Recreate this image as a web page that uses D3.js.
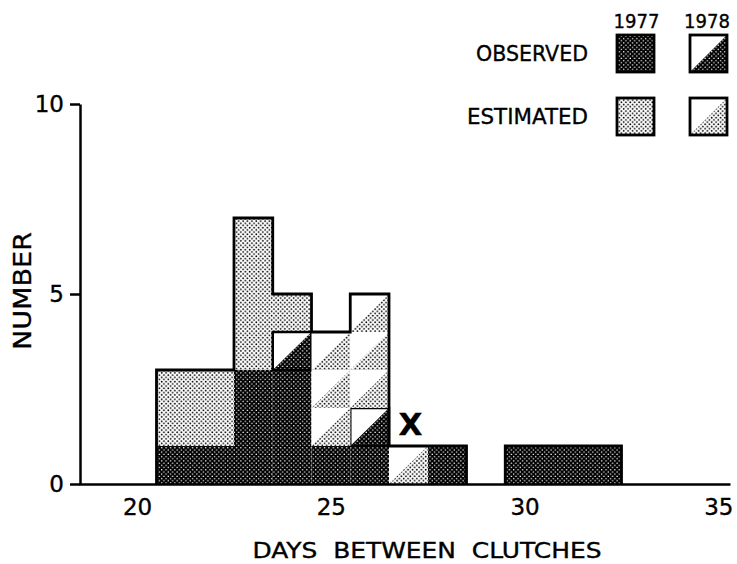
<!DOCTYPE html>
<html>
<head>
<meta charset="utf-8">
<script src="https://cdn.jsdelivr.net/npm/d3@7"></script>
<style>
  html, body { margin: 0; padding: 0; background: #fff; }
  svg { display: block; }
  text { font-family: "DejaVu Sans", sans-serif; fill: #000; stroke: #000; stroke-width: 0.35px; }
</style>
</head>
<body>
<svg id="chart" width="737" height="564"></svg>
<script>
// Interval bins (inclusive days)
const binFirstDay = [21, 23, 24, 25, 26, 27, 28, 30];
const binLastDay  = [22, 23, 24, 25, 26, 27, 28, 32];

// Counts per bin, listed in stacking order from the baseline up
const observed1977  = [1, 3, 3, 1, 1, 0, 1, 1];
const observed1978  = [0, 0, 1, 0, 1, 0, 0, 0];
const estimated1978 = [0, 0, 0, 3, 3, 1, 0, 0];
const estimated1977 = [2, 4, 1, 0, 0, 0, 0, 0];

const xTicks = [20, 25, 30, 35];
const yTicks = [0, 5, 10];
const years = ["1977", "1978"];
const kinds = ["OBSERVED", "ESTIMATED"];
const flaggedDay = 27;            // bin marked with an X
const xTitle = "DAYS BETWEEN CLUTCHES";
const yTitle = "NUMBER";

const svg = d3.select("#chart");

// ---- fill patterns -------------------------------------------------------
const defs = svg.append("defs");
function dotPattern(id, bg, fg, size, r) {
  const p = defs.append("pattern")
    .attr("id", id).attr("patternUnits", "userSpaceOnUse")
    .attr("width", size).attr("height", size);
  p.append("rect").attr("width", size).attr("height", size).attr("fill", bg);
  [[size * 0.25, size * 0.25], [size * 0.75, size * 0.75]].forEach(([cx, cy]) =>
    p.append("circle").attr("cx", cx).attr("cy", cy).attr("r", r).attr("fill", fg));
}
dotPattern("darkDots", "#000", "#fff", 4.4, 0.75);
dotPattern("lightDots", "#fff", "#000", 4.4, 0.9);

// ---- scales --------------------------------------------------------------
const x = d3.scaleLinear().domain([18.5, 35.3]).range([79, 730]);
const y = d3.scaleLinear().domain([0, 10]).range([484, 104]);

// ---- stacked data --------------------------------------------------------
const keys = ["obs77", "obs78", "est78", "est77"];
const rows = binFirstDay.map((d, i) => ({
  lo: d - 0.5,
  hi: binLastDay[i] + 0.5,
  obs77: observed1977[i],
  obs78: observed1978[i],
  est78: estimated1978[i],
  est77: estimated1977[i]
}));
const series = d3.stack().keys(keys)(rows);
const layer = k => series.find(s => s.key === k);

const plot = svg.append("g");

// 1977: solid blocks
[["obs77", "url(#darkDots)"], ["est77", "url(#lightDots)"]].forEach(([k, fill]) => {
  plot.append("g").selectAll("rect")
    .data(layer(k).filter(d => d[1] > d[0]))
    .join("rect")
    .attr("x", d => x(d.data.lo))
    .attr("width", d => x(d.data.hi) - x(d.data.lo))
    .attr("y", d => y(d[1]))
    .attr("height", d => y(d[0]) - y(d[1]))
    .attr("fill", fill);
});

// 1978: one diagonally split box per individual
function unitBoxes(k) {
  const out = [];
  layer(k).forEach(d => {
    d3.range(d[0], d[1]).forEach(v => out.push({ lo: d.data.lo, hi: d.data.hi, v0: v, v1: v + 1 }));
  });
  return out;
}
[["obs78", "url(#darkDots)", true], ["est78", "url(#lightDots)", false]].forEach(([k, fill, framed]) => {
  const g = plot.append("g").selectAll("g").data(unitBoxes(k)).join("g");
  g.append("rect")
    .attr("x", d => x(d.lo)).attr("width", d => x(d.hi) - x(d.lo))
    .attr("y", d => y(d.v1)).attr("height", d => y(d.v0) - y(d.v1))
    .attr("fill", "#fff");
  g.append("path")
    .attr("d", d => `M${x(d.lo)},${y(d.v0)}L${x(d.hi)},${y(d.v0)}L${x(d.hi)},${y(d.v1)}Z`)
    .attr("fill", fill);
  if (framed) {
    g.append("rect")
      .attr("x", d => x(d.lo)).attr("width", d => x(d.hi) - x(d.lo))
      .attr("y", d => y(d.v1)).attr("height", d => y(d.v0) - y(d.v1))
      .attr("fill", "none").attr("stroke", "#000").attr("stroke-width", 2.5);
  }
});

// outer silhouette of each run of adjacent bins
const tops = series[series.length - 1].map(d => d[1]);
const runs = [];
rows.forEach((r, i) => {
  const last = runs[runs.length - 1];
  if (last && rows[last[last.length - 1]].hi === r.lo) last.push(i);
  else runs.push([i]);
});
plot.append("g").selectAll("path").data(runs).join("path")
  .attr("d", run => {
    let p = `M${x(rows[run[0]].lo)},${y(0)}`;
    run.forEach(i => { p += `V${y(tops[i])}H${x(rows[i].hi)}`; });
    return p + `V${y(0)}`;
  })
  .attr("fill", "none").attr("stroke", "#000")
  .attr("stroke-width", 2.8).attr("stroke-linejoin", "miter");

// X marker over the flagged bin
const flagged = rows.find(r => r.lo === flaggedDay - 0.5);
const flaggedTop = tops[rows.indexOf(flagged)];
svg.append("text")
  .attr("x", x((flagged.lo + flagged.hi) / 2) + 2)
  .attr("y", y(flaggedTop) - 11)
  .attr("text-anchor", "middle")
  .attr("font-size", 31).attr("font-weight", "bold")
  .text("X");

// ---- axes ----------------------------------------------------------------
const yAxis = svg.append("g").attr("transform", `translate(80,0)`)
  .call(d3.axisLeft(y).tickValues(yTicks).tickSize(10).tickSizeOuter(0).tickPadding(6));
const xAxis = svg.append("g").attr("transform", `translate(0,${y(0)})`)
  .call(d3.axisBottom(x).tickValues(xTicks).tickSize(0).tickSizeOuter(0).tickPadding(15));
[yAxis, xAxis].forEach(a => {
  a.selectAll("path, line").attr("stroke", "#000").attr("stroke-width", 2.5);
  a.selectAll("text").attr("font-size", 23).attr("font-family", "DejaVu Sans, sans-serif")
    .attr("fill", "#000").attr("stroke", "#000").attr("stroke-width", 0.35);
});
xAxis.selectAll("text").attr("dy", "0.71em");

// axis titles
svg.append("text")
  .attr("x", 427).attr("y", 558)
  .attr("text-anchor", "middle").attr("font-size", 21)
  .attr("textLength", 349).attr("lengthAdjust", "spacingAndGlyphs")
  .text(xTitle.replace(/ /g, "\u00a0\u00a0"));
svg.append("text")
  .attr("transform", "translate(31,291) rotate(-90)")
  .attr("text-anchor", "middle").attr("font-size", 25)
  .attr("textLength", 118).attr("lengthAdjust", "spacingAndGlyphs")
  .text(yTitle);

// ---- legend --------------------------------------------------------------
const legend = svg.append("g");
const colX = [617, 690], rowY = [35, 98], box = 37;
years.forEach((yr, c) => legend.append("text")
  .attr("x", colX[c] + box / 2 + (c === 0 ? 1 : -1.5)).attr("y", 28)
  .attr("text-anchor", "middle").attr("font-size", 20)
  .attr("textLength", 46).attr("lengthAdjust", "spacingAndGlyphs")
  .text(yr));
kinds.forEach((kd, r) => legend.append("text")
  .attr("x", 588).attr("y", rowY[r] + box / 2).attr("dy", "0.36em")
  .attr("text-anchor", "end").attr("font-size", 22)
  .attr("textLength", r === 0 ? 112 : 121).attr("lengthAdjust", "spacingAndGlyphs")
  .text(kd));
kinds.forEach((kd, r) => {
  const fill = r === 0 ? "url(#darkDots)" : "url(#lightDots)";
  // 1977 swatch: full fill
  legend.append("rect").attr("x", colX[0]).attr("y", rowY[r])
    .attr("width", box).attr("height", box)
    .attr("fill", fill).attr("stroke", "#000").attr("stroke-width", 2.8);
  // 1978 swatch: lower-right half filled
  const x0 = colX[1], y0 = rowY[r];
  legend.append("rect").attr("x", x0).attr("y", y0).attr("width", box).attr("height", box).attr("fill", "#fff");
  legend.append("path").attr("d", `M${x0},${y0 + box}L${x0 + box},${y0 + box}L${x0 + box},${y0}Z`).attr("fill", fill);
  legend.append("rect").attr("x", x0).attr("y", y0).attr("width", box).attr("height", box)
    .attr("fill", "none").attr("stroke", "#000").attr("stroke-width", 2.8);
});
</script>
</body>
</html>
